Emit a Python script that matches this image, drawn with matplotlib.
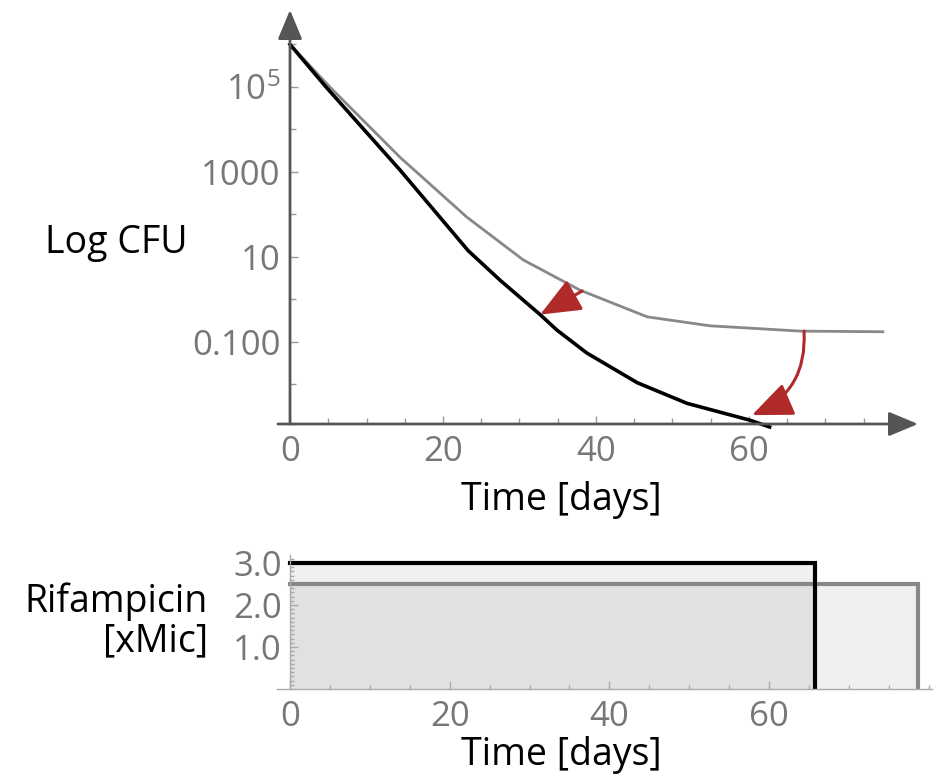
import matplotlib
matplotlib.use("Agg")
import matplotlib.pyplot as plt
from matplotlib.ticker import FixedLocator, NullFormatter

# data
black_days = [0, 4.7, 14.4, 23.3, 27.5, 32.7, 34.9, 38.8, 45.4, 51.9, 60.1, 62.7]
black_cfu = [1e6, 1e5, 1.1e3, 14, 2.8, 0.44, 0.19, 0.055, 0.011, 0.0036, 0.00145, 0.001]
gray_days = [0, 5.2, 14.4, 23.1, 30.5, 37.9, 46.7, 54.9, 66.7, 77.5]
gray_cfu = [1e6, 1e5, 2.2e3, 87, 8.5, 1.66, 0.39, 0.24, 0.18, 0.174]

rif_black_end = 65.8
rif_black_level = 3.0
rif_gray_end = 78.6
rif_gray_level = 2.5

x_major = [0, 20, 40, 60]
x_minor = [5, 10, 15, 25, 30, 35, 45, 50, 55, 65, 70, 75, 80]
y_major = [1e-1, 10, 1e3, 1e5]
y_major_labels = ["0.100", "10", "1000", r"$\mathregular{10^5}$"]
y_minor = [1e-2, 1, 100, 1e4, 1e6]
rif_ticks = [1.0, 2.0, 3.0]
rif_labels = ["1.0", "2.0", "3.0"]

plt.rcParams['font.family'] = ['Open Sans', 'DejaVu Sans']
plt.rcParams['mathtext.fontset'] = 'custom'
plt.rcParams['mathtext.rm'] = 'Open Sans'

AX = '#555555'
TICK = '#777777'
RED = '#b02a2a'
LABEL = 27
TICKSIZE = 25

fig = plt.figure(figsize=(9.4, 7.82), dpi=100)

# ---- top panel: Log CFU
ax = fig.add_axes([278/940, 1-424/782, 640/940, 414/782])
ax.set_yscale('log')
ax.set_xlim(-1.57, 82.1)
ax.set_ylim(10**-2.93, 10**6.81)

ax.plot(gray_days, gray_cfu, color='#888888', lw=2.0, clip_on=False)
ax.plot(black_days, black_cfu, color='black', lw=2.6, clip_on=False)

for s in ax.spines.values():
    s.set_visible(False)
ax.spines['left'].set_position(('data', 0))

# axis lines with arrow heads
head = dict(arrowstyle='-|>,head_length=0.6,head_width=0.25', color=AX, lw=2,
            mutation_scale=30, shrinkA=0, shrinkB=0)
ax.annotate('', xy=(1, 0), xytext=(0, 0), xycoords='axes fraction', arrowprops=head)
ax.annotate('', xy=(0, 1), xytext=(0, 0), xycoords=('data', 'axes fraction'), arrowprops=head)

ax.xaxis.set_major_locator(FixedLocator(x_major))
ax.xaxis.set_minor_locator(FixedLocator(x_minor))
ax.yaxis.set_major_locator(FixedLocator(y_major))
ax.yaxis.set_minor_locator(FixedLocator(y_minor))
ax.yaxis.set_minor_formatter(NullFormatter())
ax.set_yticklabels(y_major_labels)
ax.tick_params(which='both', direction='in', color='#999999', width=1,
               labelcolor=TICK, labelsize=TICKSIZE)
ax.tick_params(which='major', length=6, pad=8)
ax.tick_params(which='minor', length=4)
ax.tick_params(axis='y', pad=7)

# red arrows
ax.annotate('', xy=(32.7, 0.44), xytext=(38.2, 1.58),
            arrowprops=dict(arrowstyle='-|>,head_length=1.0,head_width=0.42', color=RED,
                            lw=2.2, mutation_scale=25, shrinkA=0, shrinkB=0))
ax.annotate('', xy=(60.4, 0.0019), xytext=(67.2, 0.18),
            arrowprops=dict(arrowstyle='-|>,head_length=1.0,head_width=0.42', color=RED,
                            lw=2.2, mutation_scale=25, shrinkA=0, shrinkB=0,
                            connectionstyle='arc3,rad=-0.35'))

fig.text(45/940, 1-243/782, 'Log CFU', fontsize=LABEL, ha='left', va='center')
fig.text(561/940, 1-500/782, 'Time [days]', fontsize=LABEL, ha='center', va='center')

# ---- bottom panel: Rifampicin
ax2 = fig.add_axes([277/940, 1-689/782, 655/940, 134/782])
ax2.set_xlim(-1.63, 80.4)
ax2.set_ylim(0, 3.19)

ax2.fill_between([0, rif_black_end], 0, rif_black_level, color='black', alpha=0.06, lw=0)
ax2.fill_between([0, rif_gray_end], 0, rif_gray_level, color='black', alpha=0.06, lw=0)
ax2.plot([0, rif_gray_end, rif_gray_end], [rif_gray_level, rif_gray_level, 0],
         color='#888888', lw=3, solid_joinstyle='miter')
ax2.plot([0, rif_black_end, rif_black_end], [rif_black_level, rif_black_level, 0],
         color='black', lw=3, solid_joinstyle='miter')

ax2.spines['top'].set_visible(False)
ax2.spines['right'].set_visible(False)
ax2.spines['left'].set_position(('data', 0))
for k in ['left', 'bottom']:
    ax2.spines[k].set_color('#aaaaaa')
    ax2.spines[k].set_linewidth(1)

ax2.xaxis.set_major_locator(FixedLocator(x_major))
ax2.xaxis.set_minor_locator(FixedLocator(x_minor))
ax2.set_yticks(rif_ticks)
ax2.set_yticklabels(rif_labels)
ax2.yaxis.set_minor_locator(FixedLocator([i / 10 for i in range(1, 32) if i % 10]))
ax2.tick_params(which='both', direction='in', color='#aaaaaa', width=1,
                labelcolor=TICK, labelsize=TICKSIZE)
ax2.tick_params(which='major', length=6, pad=8)
ax2.tick_params(which='minor', length=3)
ax2.tick_params(axis='y', pad=6)

fig.text(208/940, 1-621/782, 'Rifampicin\n[xMic]', fontsize=LABEL, ha='right', va='center',
         multialignment='right', linespacing=1.05)
fig.text(561/940, 1-755/782, 'Time [days]', fontsize=LABEL, ha='center', va='center')

fig.savefig('out.png', dpi=100)
